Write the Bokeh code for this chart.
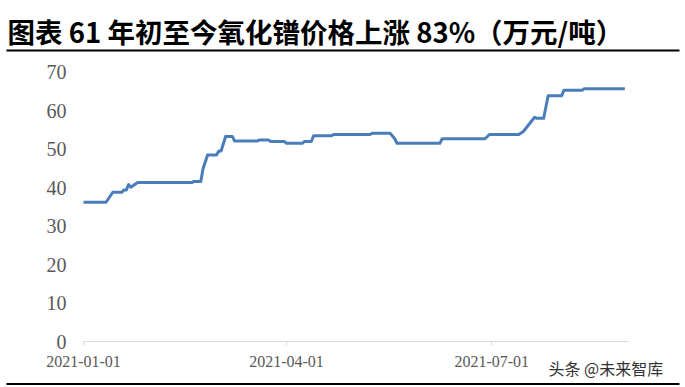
from datetime import datetime
from bokeh.plotting import figure
from bokeh.models import (ColumnDataSource, FixedTicker, DatetimeTickFormatter,
                          Range1d, Label, BoxAnnotation, DatetimeAxis, LinearAxis)
from bokeh.embed import file_html
from bokeh.resources import INLINE

# ---- data (price, 10k CNY / tonne) ----
dates = ["2021-01-01", "2021-01-11", "2021-01-14", "2021-01-18", "2021-01-19",
         "2021-01-20", "2021-01-21", "2021-01-22", "2021-01-25", "2021-02-18",
         "2021-02-19", "2021-02-22", "2021-02-23", "2021-02-25", "2021-03-01",
         "2021-03-02", "2021-03-03", "2021-03-05", "2021-03-08", "2021-03-09",
         "2021-03-19", "2021-03-20", "2021-03-24", "2021-03-25", "2021-03-31",
         "2021-04-01", "2021-04-08", "2021-04-09", "2021-04-12", "2021-04-13",
         "2021-04-21", "2021-04-22", "2021-05-08", "2021-05-09", "2021-05-17",
         "2021-05-19", "2021-05-20", "2021-06-08", "2021-06-09", "2021-06-28",
         "2021-06-30", "2021-07-13", "2021-07-15", "2021-07-20", "2021-07-21",
         "2021-07-24", "2021-07-26", "2021-08-01", "2021-08-02", "2021-08-10",
         "2021-08-11", "2021-08-29"]
prices = [36.2, 36.2, 38.8, 38.8, 39.4,
          39.4, 40.8, 40.1, 41.3, 41.3,
          41.6, 41.6, 44.9, 48.5, 48.5,
          49.5, 49.5, 53.3, 53.3, 52.1,
          52.1, 52.4, 52.4, 52.0, 52.0,
          51.5, 51.5, 52.0, 52.0, 53.5,
          53.5, 53.8, 53.8, 54.1, 54.1,
          52.7, 51.5, 51.5, 52.7, 52.7,
          53.8, 53.8, 54.6, 58.3, 58.0,
          58.0, 63.9, 63.9, 65.3, 65.3,
          65.7, 65.7]
tick_dates = ["2021-01-01", "2021-04-01", "2021-07-01"]
y_ticks = [0, 10, 20, 30, 40, 50, 60, 70]
title_text = "图表 61 年初至今氧化镨价格上涨 83%（万元/吨）"
watermark_text = "头条 @未来智库"

DAY = 86400000.0

def ms(s):
    return datetime.strptime(s, "%Y-%m-%d").timestamp() * 1000.0

src = ColumnDataSource(dict(x=[datetime.strptime(d, "%Y-%m-%d") for d in dates], y=prices))

W, H = 685, 387
# plot-area geometry (pixels on the page)
ax_left, ax_right = 83.0, 628.0       # x of first tick / end of x axis line
ax_bottom, ax_top = 341.0, 71.7       # y of value 0 / value 70
px_per_day = (286.0 - ax_left) / 90.0
px_per_unit = (ax_bottom - ax_top) / 70.0

x0 = ms(tick_dates[0])
x_start = x0 - ax_left / px_per_day * DAY
x_end = x0 + (W - ax_left) / px_per_day * DAY
x_axis_end = x0 + (ax_right - ax_left) / px_per_day * DAY
y_start = -(H - ax_bottom) / px_per_unit
y_end = 70 + ax_top / px_per_unit

p = figure(width=W, height=H, output_backend="svg", toolbar_location=None,
           x_range=Range1d(x_start, x_end), y_range=Range1d(y_start, y_end),
           x_axis_type=None, y_axis_type=None,
           min_border=0, min_border_left=0, min_border_right=0,
           min_border_top=0, min_border_bottom=0)
p.outline_line_color = None
p.grid.visible = False
p.background_fill_color = "white"
p.border_fill_color = "white"

p.line("x", "y", source=src, line_color="#4A7EBB", line_width=3, line_join="round")

# x axis, drawn at value 0
xa = DatetimeAxis(fixed_location=0, bounds=(x0, x_axis_end))
xa.ticker = FixedTicker(ticks=[ms(d) for d in tick_dates])
xa.formatter = DatetimeTickFormatter(days="%Y-%m-%d", months="%Y-%m-%d", years="%Y-%m-%d")
xa.axis_line_color = "#D9D9D9"
xa.axis_line_width = 1
xa.major_tick_line_color = "#D9D9D9"
xa.major_tick_in = 0
xa.major_tick_out = 4
xa.minor_tick_line_color = None
xa.major_label_standoff = 10
xa.major_label_text_font = "Liberation Serif"
xa.major_label_text_font_size = "16px"
xa.major_label_text_color = "#595959"
p.add_layout(xa, "below")

# y axis, drawn at the first date
ya = LinearAxis(fixed_location=x0, bounds=(0, 70))
ya.ticker = FixedTicker(ticks=y_ticks)
ya.axis_line_color = None
ya.major_tick_line_color = None
ya.minor_tick_line_color = None
ya.major_label_standoff = 11
ya.major_label_text_font = "Liberation Serif"
ya.major_label_text_font_size = "20px"
ya.major_label_text_color = "#595959"
p.add_layout(ya, "left")

# title, rules and watermark (screen units: from bottom-left of the page)
p.add_layout(Label(x=7, y=H - 30, x_units="screen", y_units="screen", text=title_text,
                   text_font="Noto Sans CJK SC", text_font_style="bold",
                   text_font_size="27.5px", text_color="black", text_baseline="middle"))
p.add_layout(BoxAnnotation(left=6, right=679, bottom=H - 51, top=H - 49,
                           left_units="screen", right_units="screen",
                           bottom_units="screen", top_units="screen",
                           fill_color="black", fill_alpha=1, line_color=None))
p.add_layout(BoxAnnotation(left=6, right=679, bottom=H - 384.5, top=H - 382.5,
                           left_units="screen", right_units="screen",
                           bottom_units="screen", top_units="screen",
                           fill_color="black", fill_alpha=1, line_color=None))
p.add_layout(Label(x=548, y=H - 367, x_units="screen", y_units="screen", text=watermark_text,
                   text_font="Noto Sans CJK SC", text_font_size="16px",
                   text_color="#333333", text_baseline="middle"))

open("out.html", "w").write(file_html(p, INLINE))
